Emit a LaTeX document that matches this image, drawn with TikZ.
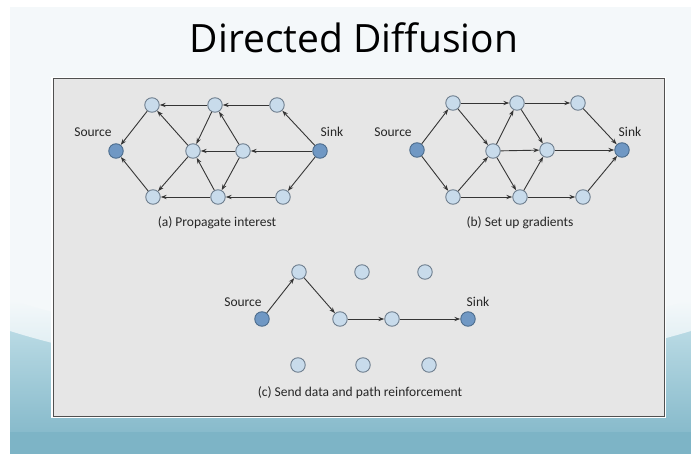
\documentclass[tikz,border=0pt]{standalone}
\usepackage{fontspec}
\setmainfont{Carlito}
\newfontfamily\titlefont{Open Sans}
\usetikzlibrary{arrows.meta}
\definecolor{bgtop}{HTML}{F4F8FA}
\definecolor{teal1}{HTML}{7DB4C6}
\definecolor{teal2}{HTML}{B9DAE4}
\definecolor{panel}{HTML}{E6E6E6}
\definecolor{panelborder}{HTML}{505050}
\definecolor{nodefill}{HTML}{C8DBEB}
\definecolor{nodeborder}{HTML}{6E7E8E}
\definecolor{endfill}{HTML}{7098C4}
\definecolor{endborder}{HTML}{4C6C8C}
\definecolor{edgecol}{HTML}{353535}
\definecolor{txt}{HTML}{262626}
\tikzset{
  sensor/.style={circle, draw=nodeborder, fill=nodefill, line width=0.9pt, minimum size=14.5pt, inner sep=0pt},
  endpt/.style={sensor, draw=endborder, fill=endfill},
  lbl/.style={font=\fontsize{13.5}{15}\selectfont, text=txt, inner sep=0pt},
  edge/.style={draw=edgecol, line width=0.9pt, -{Stealth[length=6pt,width=4.2pt]}},
}
\begin{document}
\begin{tikzpicture}[x=1pt,y=-1pt]
\useasboundingbox (0,0) rectangle (691,454);
% background
\fill[white] (0,0) rectangle (691,454);
\fill[bgtop] (10,7) rectangle (691,454);
\shade[top color=teal2, bottom color=teal1] (10,330) .. controls (200,390) and (490,390) .. (691,330) -- (691,454) -- (10,454) -- cycle;
\shade[top color=bgtop, bottom color=teal2!70] (10,300) .. controls (200,360) and (490,360) .. (691,300) -- (691,331) .. controls (490,391) and (200,391) .. (10,331) -- cycle;
\fill[teal1] (10,432) rectangle (691,454);
% title
\node[font=\titlefont\fontsize{39}{44}\selectfont, text=black, inner sep=0pt, anchor=base] (title) at (354,53) {Directed Diffusion};
% panel
\draw[white, line width=1.5pt] (52,78) rectangle (665,417);
\draw[panelborder, fill=panel, line width=1pt] (53,79) rectangle (664,416);
% ---------- panel (a)
\node[sensor] (at1) at (152,105) {};
\node[sensor] (at2) at (215,105) {};
\node[sensor] (at3) at (277,105) {};
\node[endpt]  (asrc) at (116,151) {};
\node[sensor] (am1) at (193,151) {};
\node[sensor] (am2) at (243,151) {};
\node[endpt]  (asnk) at (320,151) {};
\node[sensor] (ab1) at (153,197) {};
\node[sensor] (ab2) at (218,197) {};
\node[sensor] (ab3) at (283,197) {};
\node[lbl] (asrcl) at (93,132) {Source};
\node[lbl] (asnkl) at (332,132) {Sink};
\node[lbl] (acap) at (217,223) {(a) Propagate interest};
\draw[edge] (at2) -- (at1);
\draw[edge] (at3) -- (at2);
\draw[edge] (asnk) -- (at3);
\draw[edge] (at1) -- (asrc);
\draw[edge] (ab1) -- (asrc);
\draw[edge] (am1) -- (at1);
\draw[edge] (at2) -- (am1);
\draw[edge] (am1) -- (ab1);
\draw[edge] (ab2) -- (am1);
\draw[edge] (am2) -- (am1);
\draw[edge] (am2) -- (at2);
\draw[edge] (am2) -- (ab2);
\draw[edge] (asnk) -- (am2);
\draw[edge] (ab2) -- (ab1);
\draw[edge] (ab3) -- (ab2);
\draw[edge] (asnk) -- (ab3);
% ---------- panel (b)
\node[sensor] (bt1) at (453,103) {};
\node[sensor] (bt2) at (517,103) {};
\node[sensor] (bt3) at (578,103) {};
\node[endpt]  (bsrc) at (417,150) {};
\node[sensor] (bm1) at (493,151) {};
\node[sensor] (bm2) at (547,150) {};
\node[endpt]  (bsnk) at (622,150) {};
\node[sensor] (bb1) at (453,197) {};
\node[sensor] (bb2) at (520,197) {};
\node[sensor] (bb3) at (583,197) {};
\node[lbl] (bsrcl) at (393,132) {Source};
\node[lbl] (bsnkl) at (630,132) {Sink};
\node[lbl] (bcap) at (520,223) {(b) Set up gradients};
\draw[edge] (bsrc) -- (bt1);
\draw[edge] (bsrc) -- (bb1);
\draw[edge] (bt1) -- (bt2);
\draw[edge] (bt2) -- (bt3);
\draw[edge] (bt3) -- (bsnk);
\draw[edge] (bt1) -- (bm1);
\draw[edge] (bb1) -- (bm1);
\draw[edge] (bb1) -- (bb2);
\draw[edge] (bb2) -- (bb3);
\draw[edge] (bb3) -- (bsnk);
\draw[edge] (bm1) -- (bt2);
\draw[edge] (bt2) -- (bm2);
\draw[edge] (bm1) -- (bm2);
\draw[edge] (bm1) -- (bb2);
\draw[edge] (bb2) -- (bm2);
\draw[edge] (bm2) -- (bsnk);
% ---------- panel (c)
\node[endpt]  (csrc) at (262,319) {};
\node[sensor] (ct1) at (299,272) {};
\node[sensor] (ct2) at (362,272) {};
\node[sensor] (ct3) at (425,272) {};
\node[sensor] (cm1) at (340,319) {};
\node[sensor] (cm2) at (392,319) {};
\node[endpt]  (csnk) at (468,319) {};
\node[sensor] (cb1) at (298,365) {};
\node[sensor] (cb2) at (363,365) {};
\node[sensor] (cb3) at (429,365) {};
\node[lbl] (csrcl) at (243,302) {Source};
\node[lbl] (csnkl) at (478,302) {Sink};
\node[lbl] (ccap) at (360,393) {(c) Send data and path reinforcement};
\draw[edge] (csrc) -- (ct1);
\draw[edge] (ct1) -- (cm1);
\draw[edge] (cm1) -- (cm2);
\draw[edge] (cm2) -- (csnk);
\end{tikzpicture}
\end{document}
